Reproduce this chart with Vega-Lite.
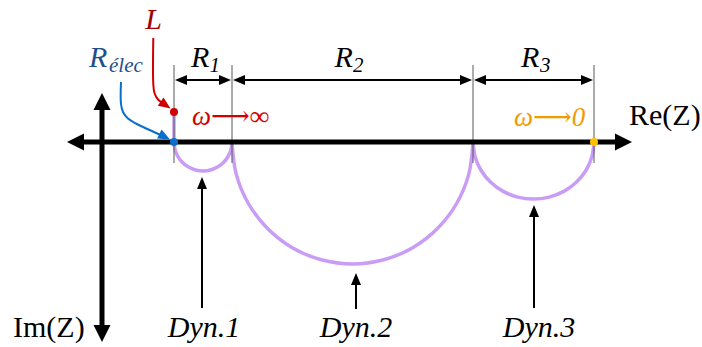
{
  "$schema": "https://vega.github.io/schema/vega-lite/v6.json",
  "width": 702,
  "height": 347,
  "padding": 0,
  "autosize": {"type": "fit", "contains": "padding"},
  "background": "white",
  "config": {"view": {"stroke": null}},
  "datasets": {
    "segs": [
      {"grp": "axis", "role": "axis", "x": 77, "y": 142, "x2": 622, "y2": 142},
      {"grp": "axis", "role": "axis", "x": 102, "y": 103, "x2": 102, "y2": 332},
      {"grp": "guide", "role": "guide", "x": 174, "y": 65, "x2": 174, "y2": 163},
      {"grp": "guide", "role": "guide", "x": 232, "y": 65, "x2": 232, "y2": 163},
      {"grp": "guide", "role": "guide", "x": 473, "y": 65, "x2": 473, "y2": 163},
      {"grp": "guide", "role": "guide", "x": 594, "y": 65, "x2": 594, "y2": 163},
      {"grp": "thin", "role": "axis", "x": 180, "y": 80, "x2": 226, "y2": 80},
      {"grp": "thin", "role": "axis", "x": 238, "y": 80, "x2": 467, "y2": 80},
      {"grp": "thin", "role": "axis", "x": 479, "y": 80, "x2": 588, "y2": 80},
      {"grp": "thin", "role": "axis", "x": 202, "y": 308, "x2": 202, "y2": 185},
      {"grp": "thin", "role": "axis", "x": 356, "y": 309, "x2": 356, "y2": 281},
      {"grp": "thin", "role": "axis", "x": 534, "y": 308, "x2": 534, "y2": 213}
    ],
    "arcs": [
      {"id": "lseg", "i": 0, "x": 174, "y": 112, "role": "curve"},
      {"id": "lseg", "i": 1, "x": 174, "y": 142, "role": "curve"},
      {"id": "dyn1", "i": 0, "x": 174, "y": 142, "role": "curve"},
      {"id": "dyn1", "i": 1, "x": 175.0, "y": 149.5, "role": "curve"},
      {"id": "dyn1", "i": 2, "x": 177.9, "y": 156.5, "role": "curve"},
      {"id": "dyn1", "i": 3, "x": 182.5, "y": 162.5, "role": "curve"},
      {"id": "dyn1", "i": 4, "x": 188.5, "y": 167.1, "role": "curve"},
      {"id": "dyn1", "i": 5, "x": 195.5, "y": 170.0, "role": "curve"},
      {"id": "dyn1", "i": 6, "x": 203, "y": 171, "role": "curve"},
      {"id": "dyn1", "i": 7, "x": 210.5, "y": 170.0, "role": "curve"},
      {"id": "dyn1", "i": 8, "x": 217.5, "y": 167.1, "role": "curve"},
      {"id": "dyn1", "i": 9, "x": 223.5, "y": 162.5, "role": "curve"},
      {"id": "dyn1", "i": 10, "x": 228.1, "y": 156.5, "role": "curve"},
      {"id": "dyn1", "i": 11, "x": 231.0, "y": 149.5, "role": "curve"},
      {"id": "dyn1", "i": 12, "x": 232, "y": 142, "role": "curve"},
      {"id": "dyn2", "i": 0, "x": 232, "y": 142, "role": "curve"},
      {"id": "dyn2", "i": 1, "x": 236.1, "y": 173.6, "role": "curve"},
      {"id": "dyn2", "i": 2, "x": 248.1, "y": 203, "role": "curve"},
      {"id": "dyn2", "i": 3, "x": 267.3, "y": 228.3, "role": "curve"},
      {"id": "dyn2", "i": 4, "x": 292.25, "y": 247.7, "role": "curve"},
      {"id": "dyn2", "i": 5, "x": 321.3, "y": 259.8, "role": "curve"},
      {"id": "dyn2", "i": 6, "x": 352.5, "y": 264, "role": "curve"},
      {"id": "dyn2", "i": 7, "x": 383.7, "y": 259.8, "role": "curve"},
      {"id": "dyn2", "i": 8, "x": 412.75, "y": 247.7, "role": "curve"},
      {"id": "dyn2", "i": 9, "x": 437.7, "y": 228.3, "role": "curve"},
      {"id": "dyn2", "i": 10, "x": 456.9, "y": 203, "role": "curve"},
      {"id": "dyn2", "i": 11, "x": 468.9, "y": 173.6, "role": "curve"},
      {"id": "dyn2", "i": 12, "x": 473, "y": 142, "role": "curve"},
      {"id": "dyn3", "i": 0, "x": 473, "y": 142, "role": "curve"},
      {"id": "dyn3", "i": 1, "x": 475.1, "y": 156.75, "role": "curve"},
      {"id": "dyn3", "i": 2, "x": 481.1, "y": 170.5, "role": "curve"},
      {"id": "dyn3", "i": 3, "x": 490.7, "y": 182.3, "role": "curve"},
      {"id": "dyn3", "i": 4, "x": 503.25, "y": 191.4, "role": "curve"},
      {"id": "dyn3", "i": 5, "x": 517.8, "y": 197.1, "role": "curve"},
      {"id": "dyn3", "i": 6, "x": 533.5, "y": 199, "role": "curve"},
      {"id": "dyn3", "i": 7, "x": 549.2, "y": 197.1, "role": "curve"},
      {"id": "dyn3", "i": 8, "x": 563.75, "y": 191.4, "role": "curve"},
      {"id": "dyn3", "i": 9, "x": 576.3, "y": 182.3, "role": "curve"},
      {"id": "dyn3", "i": 10, "x": 585.9, "y": 170.5, "role": "curve"},
      {"id": "dyn3", "i": 11, "x": 591.9, "y": 156.75, "role": "curve"},
      {"id": "dyn3", "i": 12, "x": 594, "y": 142, "role": "curve"}
    ],
    "ptrs": [
      {"id": "red", "i": 0, "x": 153.3, "y": 38, "role": "Lred"},
      {"id": "red", "i": 1, "x": 153.3, "y": 84, "role": "Lred"},
      {"id": "red", "i": 2, "x": 154.5, "y": 93, "role": "Lred"},
      {"id": "red", "i": 3, "x": 158, "y": 99.5, "role": "Lred"},
      {"id": "red", "i": 4, "x": 164, "y": 104, "role": "Lred"},
      {"id": "blue", "i": 0, "x": 121, "y": 82, "role": "Rblue"},
      {"id": "blue", "i": 1, "x": 121, "y": 104, "role": "Rblue"},
      {"id": "blue", "i": 2, "x": 123, "y": 112, "role": "Rblue"},
      {"id": "blue", "i": 3, "x": 128, "y": 118.5, "role": "Rblue"},
      {"id": "blue", "i": 4, "x": 136, "y": 123.5, "role": "Rblue"},
      {"id": "blue", "i": 5, "x": 162, "y": 135.5, "role": "Rblue"}
    ],
    "heads": [
      {"grp": "big", "dir": "bigL", "x": 67, "y": 142, "role": "axis"},
      {"grp": "big", "dir": "bigR", "x": 632, "y": 142, "role": "axis"},
      {"grp": "big", "dir": "bigU", "x": 102, "y": 93, "role": "axis"},
      {"grp": "big", "dir": "bigD", "x": 102, "y": 342, "role": "axis"},
      {"grp": "small", "dir": "left", "x": 175, "y": 80, "role": "axis"},
      {"grp": "small", "dir": "right", "x": 231, "y": 80, "role": "axis"},
      {"grp": "small", "dir": "left", "x": 233, "y": 80, "role": "axis"},
      {"grp": "small", "dir": "right", "x": 472, "y": 80, "role": "axis"},
      {"grp": "small", "dir": "left", "x": 474, "y": 80, "role": "axis"},
      {"grp": "small", "dir": "right", "x": 593, "y": 80, "role": "axis"},
      {"grp": "small", "dir": "up", "x": 202, "y": 177, "role": "axis"},
      {"grp": "small", "dir": "up", "x": 356, "y": 273, "role": "axis"},
      {"grp": "small", "dir": "up", "x": 534, "y": 205, "role": "axis"},
      {"grp": "small", "dir": "ptrRed", "x": 170.5, "y": 108.5, "role": "Lred"},
      {"grp": "small", "dir": "ptrBlue", "x": 170, "y": 139.5, "role": "Rblue"}
    ],
    "dots": [
      {"x": 174, "y": 112, "role": "Lred"},
      {"x": 174, "y": 142, "role": "Rblue"},
      {"x": 594, "y": 142, "role": "zero"}
    ],
    "texts": [
      {"grp": "itc", "text": "L", "x": 153.5, "y": 29, "role": "Ltext"},
      {"grp": "itc", "text": "Dyn.1", "x": 204, "y": 337, "role": "axis"},
      {"grp": "itc", "text": "Dyn.2", "x": 356, "y": 337, "role": "axis"},
      {"grp": "itc", "text": "Dyn.3", "x": 539, "y": 337, "role": "axis"},
      {"grp": "itl", "text": "R", "x": 89, "y": 67, "role": "Rtext"},
      {"grp": "itl", "text": "R", "x": 191, "y": 67, "role": "axis"},
      {"grp": "itl", "text": "R", "x": 334.5, "y": 67, "role": "axis"},
      {"grp": "itl", "text": "R", "x": 521, "y": 67, "role": "axis"},
      {"grp": "sub", "text": "élec", "x": 109, "y": 72, "role": "Rtext"},
      {"grp": "sub", "text": "1", "x": 209.5, "y": 72, "role": "axis"},
      {"grp": "sub", "text": "2", "x": 353, "y": 72, "role": "axis"},
      {"grp": "sub", "text": "3", "x": 540, "y": 72, "role": "axis"},
      {"grp": "omg", "text": "ω⟶∞", "x": 192, "y": 125, "role": "winf"},
      {"grp": "omg", "text": "ω⟶0", "x": 514, "y": 126, "role": "w0"},
      {"grp": "pl", "text": "Re(Z)", "x": 629, "y": 125, "role": "axis"},
      {"grp": "pl", "text": "Im(Z)", "x": 13, "y": 337, "role": "axis"}
    ]
  },
  "encoding": {
    "x": {"field": "x", "type": "quantitative", "scale": {"domain": [0, 702], "nice": false, "zero": false}, "axis": null},
    "y": {"field": "y", "type": "quantitative", "scale": {"domain": [0, 347], "nice": false, "zero": false, "reverse": true}, "axis": null},
    "color": {
      "field": "role",
      "type": "nominal",
      "legend": null,
      "scale": {
        "domain": ["axis", "guide", "curve", "Ltext", "Lred", "Rtext", "Rblue", "winf", "w0", "zero"],
        "range": ["#000000", "#595959", "#c99cf5", "#a00000", "#d00000", "#1f4e8c", "#0a6fcc", "#d40000", "#f39a00", "#ffc000"]
      }
    }
  },
  "layer": [
    {
      "data": {"name": "arcs"},
      "mark": {"type": "line", "strokeWidth": 3.5, "interpolate": "catmull-rom", "strokeCap": "round"},
      "encoding": {"detail": {"field": "id"}, "order": {"field": "i", "type": "quantitative"}}
    },
    {
      "data": {"name": "segs"},
      "transform": [{"filter": "datum.grp == 'guide'"}],
      "mark": {"type": "rule", "strokeWidth": 1},
      "encoding": {"x2": {"field": "x2"}, "y2": {"field": "y2"}}
    },
    {
      "data": {"name": "segs"},
      "transform": [{"filter": "datum.grp == 'axis'"}],
      "mark": {"type": "rule", "strokeWidth": 5},
      "encoding": {"x2": {"field": "x2"}, "y2": {"field": "y2"}}
    },
    {
      "data": {"name": "segs"},
      "transform": [{"filter": "datum.grp == 'thin'"}],
      "mark": {"type": "rule", "strokeWidth": 2},
      "encoding": {"x2": {"field": "x2"}, "y2": {"field": "y2"}}
    },
    {
      "data": {"name": "ptrs"},
      "mark": {"type": "line", "strokeWidth": 2, "interpolate": "catmull-rom"},
      "encoding": {"detail": {"field": "id"}, "order": {"field": "i", "type": "quantitative"}}
    },
    {
      "data": {"name": "heads"},
      "transform": [{"filter": "datum.grp == 'big'"}],
      "mark": {"type": "point", "filled": true, "opacity": 1, "size": 289, "strokeWidth": 0},
      "encoding": {
        "shape": {
          "field": "dir", "type": "nominal", "legend": null,
          "scale": {
            "domain": ["bigL", "bigR", "bigU", "bigD", "left", "right", "up", "ptrRed", "ptrBlue"],
            "range": ["M0,0L2,-1L2,1Z", "M0,0L-2,-1L-2,1Z", "M0,0L-1,2L1,2Z", "M0,0L-1,-2L1,-2Z", "M0,0L2.4,-1L2.4,1Z", "M0,0L-2.4,-1L-2.4,1Z", "M0,0L-1,2.4L1,2.4Z", "M0,0L-1.39,-2.2L-2.54,-0.56Z", "M0,0L-1.68,-1.98L-2.59,-0.2Z"]
          }
        }
      }
    },
    {
      "data": {"name": "heads"},
      "transform": [{"filter": "datum.grp == 'small'"}],
      "mark": {"type": "point", "filled": true, "opacity": 1, "size": 100, "strokeWidth": 0},
      "encoding": {
        "shape": {
          "field": "dir", "type": "nominal", "legend": null,
          "scale": {
            "domain": ["bigL", "bigR", "bigU", "bigD", "left", "right", "up", "ptrRed", "ptrBlue"],
            "range": ["M0,0L2,-1L2,1Z", "M0,0L-2,-1L-2,1Z", "M0,0L-1,2L1,2Z", "M0,0L-1,-2L1,-2Z", "M0,0L2.4,-1L2.4,1Z", "M0,0L-2.4,-1L-2.4,1Z", "M0,0L-1,2.4L1,2.4Z", "M0,0L-1.39,-2.2L-2.54,-0.56Z", "M0,0L-1.68,-1.98L-2.59,-0.2Z"]
          }
        }
      }
    },
    {
      "data": {"name": "dots"},
      "mark": {"type": "circle", "size": 64, "opacity": 1}
    },
    {
      "data": {"name": "texts"},
      "transform": [{"filter": "datum.grp == 'itc'"}],
      "mark": {"type": "text", "font": "'Liberation Serif', 'Times New Roman', serif", "fontStyle": "italic", "fontSize": 30, "align": "center", "baseline": "alphabetic"},
      "encoding": {"text": {"field": "text"}}
    },
    {
      "data": {"name": "texts"},
      "transform": [{"filter": "datum.grp == 'itl'"}],
      "mark": {"type": "text", "font": "'Liberation Serif', 'Times New Roman', serif", "fontStyle": "italic", "fontSize": 30, "align": "left", "baseline": "alphabetic"},
      "encoding": {"text": {"field": "text"}}
    },
    {
      "data": {"name": "texts"},
      "transform": [{"filter": "datum.grp == 'sub'"}],
      "mark": {"type": "text", "font": "'Liberation Serif', 'Times New Roman', serif", "fontStyle": "italic", "fontSize": 21, "align": "left", "baseline": "alphabetic"},
      "encoding": {"text": {"field": "text"}}
    },
    {
      "data": {"name": "texts"},
      "transform": [{"filter": "datum.grp == 'omg'"}],
      "mark": {"type": "text", "font": "'Liberation Serif', 'DejaVu Serif', serif", "fontStyle": "italic", "fontSize": 27, "align": "left", "baseline": "alphabetic"},
      "encoding": {"text": {"field": "text"}}
    },
    {
      "data": {"name": "texts"},
      "transform": [{"filter": "datum.grp == 'pl'"}],
      "mark": {"type": "text", "font": "'Liberation Serif', 'Times New Roman', serif", "fontSize": 30, "align": "left", "baseline": "alphabetic"},
      "encoding": {"text": {"field": "text"}}
    }
  ]
}
